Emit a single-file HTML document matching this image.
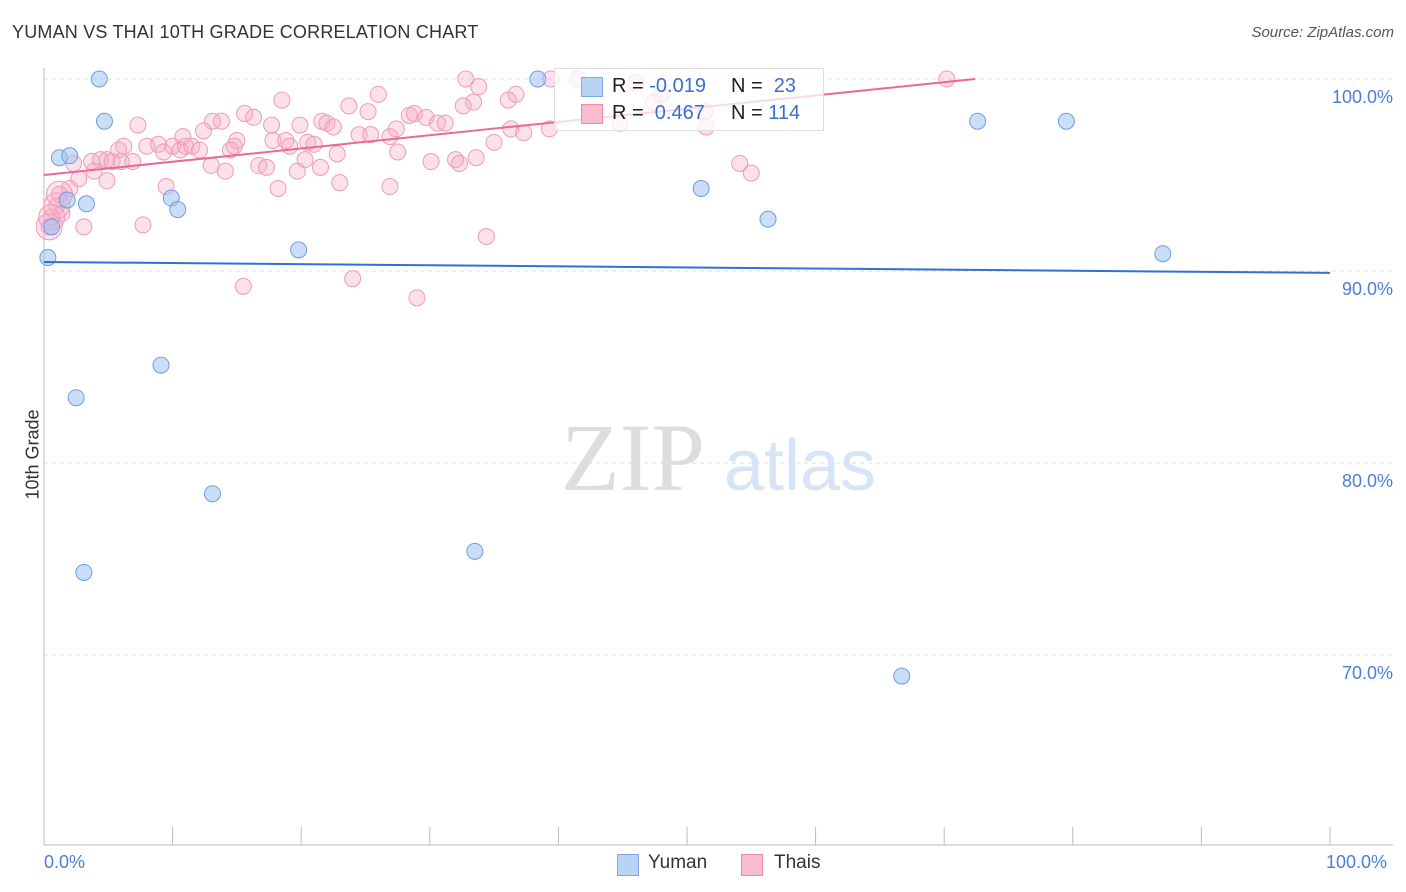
<!DOCTYPE html>
<html><head><meta charset="utf-8"><style>
body{margin:0;background:#fff;font-family:"Liberation Sans",sans-serif;}
#wrap{position:relative;width:1406px;height:892px;overflow:hidden;}
.t{position:absolute;white-space:nowrap;}
</style></head><body>
<div id="wrap">
<div class="t" style="left:12px;top:22px;font-size:18px;color:#333;letter-spacing:0.2px">YUMAN VS THAI 10TH GRADE CORRELATION CHART</div>
<div class="t" style="right:12px;top:24px;font-size:15px;color:#555;font-style:italic">Source: ZipAtlas.com</div>
<div class="t" style="left:-12px;top:444px;font-size:18px;color:#333;transform:rotate(-90deg)">10th Grade</div>
<svg id="svg" width="1406" height="892" style="position:absolute;left:0;top:0"></svg>
<div style="position:absolute;left:554px;top:68px;width:268px;height:61px;border:1px solid #ddd;background:rgba(255,255,255,0.75);font-size:20px">
 <div style="position:absolute;left:26px;top:8px;width:20px;height:18px;background:#b9d3f5;border:1px solid #7ea8e4"></div>
 <div class="t" style="left:57px;top:6px;color:#222">R = <span style="color:#3a6fd0">-0.019</span></div>
 <div class="t" style="left:176px;top:6px;color:#222">N = <span style="color:#3a6fd0">&nbsp;23</span></div>
 <div style="position:absolute;left:26px;top:35px;width:20px;height:18px;background:#f8bccd;border:1px solid #ec8aa8"></div>
 <div class="t" style="left:57px;top:33px;color:#222">R = <span style="color:#3a6fd0">&nbsp;0.467</span></div>
 <div class="t" style="left:176px;top:33px;color:#222">N = <span style="color:#3a6fd0">114</span></div>
</div>
<div class="t" style="left:44px;top:852px;font-size:18px;color:#4a7fd6">0.0%</div>
<div class="t" style="left:1326px;top:852px;font-size:18px;color:#4a7fd6">100.0%</div>
<div style="position:absolute;left:617px;top:854px;width:20px;height:20px;background:#b9d3f5;border:1px solid #7ea8e4"></div>
<div class="t" style="left:648px;top:852px;font-size:19px;color:#333">Yuman</div>
<div style="position:absolute;left:741px;top:854px;width:20px;height:20px;background:#f8bccd;border:1px solid #ec8aa8"></div>
<div class="t" style="left:774px;top:852px;font-size:19px;color:#333">Thais</div>
</div>
<script>
const yTicks=[100,90,80,70];
const yTickLabels=["100.0%","90.0%","80.0%","70.0%"];
const xTicks=[0,10,20,30,40,50,60,70,80,90,100];
const blueX=[4.3,38.4,4.7,1.2,2.0,3.3,9.9,10.4,0.6,0.3,19.8,51.1,56.3,72.6,79.5,87.0,9.1,2.5,13.1,3.1,33.5,66.7,1.8];
const blueY=[100,100,97.8,95.9,96.0,93.5,93.8,93.2,92.3,90.7,91.1,94.3,92.7,97.8,97.8,90.9,85.1,83.4,78.4,74.3,75.4,68.9,93.7];
const pinkX=[32.8,39.4,41.5,70.2,33.8,26.0,36.7,23.7,18.5,15.6,16.3,28.4,28.8,29.7,30.6,31.2,32.6,33.4,36.1,25.2,7.3,13.1,13.8,17.7,19.9,21.6,22.0,22.5,24.5,25.4,26.9,27.4,36.3,37.3,39.3,44.8,51.5,10.8,12.4,15.0,17.8,18.8,19.1,20.5,21.0,8.0,8.9,10.0,10.6,11.0,11.5,12.1,14.5,14.8,5.8,6.2,9.3,22.8,27.5,35.0,3.7,4.4,4.9,5.3,6.0,6.9,2.3,20.3,21.5,30.1,32.0,32.3,33.6,13.0,14.1,16.7,17.3,19.7,54.1,55.0,3.9,2.7,4.9,9.5,18.2,23.0,26.9,2.0,1.2,1.0,1.4,0.6,0.4,3.1,7.7,34.4,15.5,24.0,29.0,47.4,48.0,46.0,51.4];
const pinkY=[100,100,100,100,99.6,99.2,99.2,98.6,98.9,98.2,98.0,98.1,98.2,98.0,97.7,97.7,98.6,98.8,98.9,98.3,97.6,97.8,97.8,97.6,97.6,97.8,97.7,97.5,97.1,97.1,97.0,97.4,97.4,97.2,97.4,97.7,97.5,97.0,97.3,96.8,96.8,96.8,96.5,96.7,96.6,96.5,96.6,96.5,96.3,96.5,96.5,96.3,96.3,96.5,96.3,96.5,96.2,96.1,96.2,96.7,95.7,95.8,95.8,95.7,95.7,95.7,95.6,95.8,95.4,95.7,95.8,95.6,95.9,95.5,95.2,95.5,95.4,95.2,95.6,95.1,95.2,94.8,94.7,94.4,94.3,94.6,94.4,94.3,94.0,93.4,93.0,92.8,92.3,92.3,92.4,91.8,89.2,89.6,88.6,98.8,99.2,99.8,98.3];
const bigPink=[[1.0,93.4],[0.6,92.8],[0.4,92.3],[1.2,94.0]];
const blueLine=[[0,90.47],[100,89.9]];
const pinkLine=[[0,95.0],[72.4,100]];
const X=v=>44+v*12.86, Y=v=>79+(100-v)*19.2;
const s=document.getElementById('svg'),NS='http://www.w3.org/2000/svg';
function mk(t,a){const e=document.createElementNS(NS,t);for(const k in a)e.setAttribute(k,a[k]);s.appendChild(e);return e;}
yTicks.forEach((t,i)=>{
 const g=mk('line',{x1:44,x2:1393,y1:Y(t),y2:Y(t),stroke:'#ddd','stroke-dasharray':'4,4'});
 
 
 const tx=mk('text',{x:1393,y:Y(t)+24,'text-anchor':'end','font-size':18,fill:'#4a7fd6','font-family':'Liberation Sans'});
 tx.textContent=yTickLabels[i];
 
 
});
mk('line',{x1:44,x2:44,y1:68,y2:845,stroke:'#bbb'});
mk('line',{x1:44,x2:1393,y1:845,y2:845,stroke:'#bbb'});
xTicks.forEach(t=>{const l=mk('line',{x1:X(t),x2:X(t),y1:827,y2:845,stroke:'#bbb'});
 
 });
const w1=mk('text',{x:633,y:490,'text-anchor':'middle','font-size':96,fill:'#ddd','font-family':'Liberation Serif'});w1.textContent='ZIP';


const w2=mk('text',{x:800,y:490,'text-anchor':'middle','font-size':72,fill:'#d6e4f6','font-family':'Liberation Sans'});w2.textContent='atlas';


pinkX.forEach((x,i)=>{const c=mk('circle',{cx:X(x),cy:Y(pinkY[i]),r:8,fill:'rgba(246,170,195,0.35)',stroke:'#ef9ab6','stroke-width':1});
 
 });
bigPink.forEach(p=>{const c=mk('circle',{cx:X(p[0]),cy:Y(p[1]),r:13,fill:'rgba(246,170,195,0.3)',stroke:'#ef9ab6'});
 
 });
blueX.forEach((x,i)=>{const c=mk('circle',{cx:X(x),cy:Y(blueY[i]),r:8,fill:'rgba(160,195,240,0.55)',stroke:'#6e9de0','stroke-width':1});
 
 });
const bl=mk('line',{x1:X(blueLine[0][0]),y1:Y(blueLine[0][1]),x2:X(blueLine[1][0]),y2:Y(blueLine[1][1]),stroke:'#2f72d6','stroke-width':2});


const pl=mk('line',{x1:X(pinkLine[0][0]),y1:Y(pinkLine[0][1]),x2:X(pinkLine[1][0]),y2:Y(pinkLine[1][1]),stroke:'#e8699a','stroke-width':2});


</script>
</body></html>
